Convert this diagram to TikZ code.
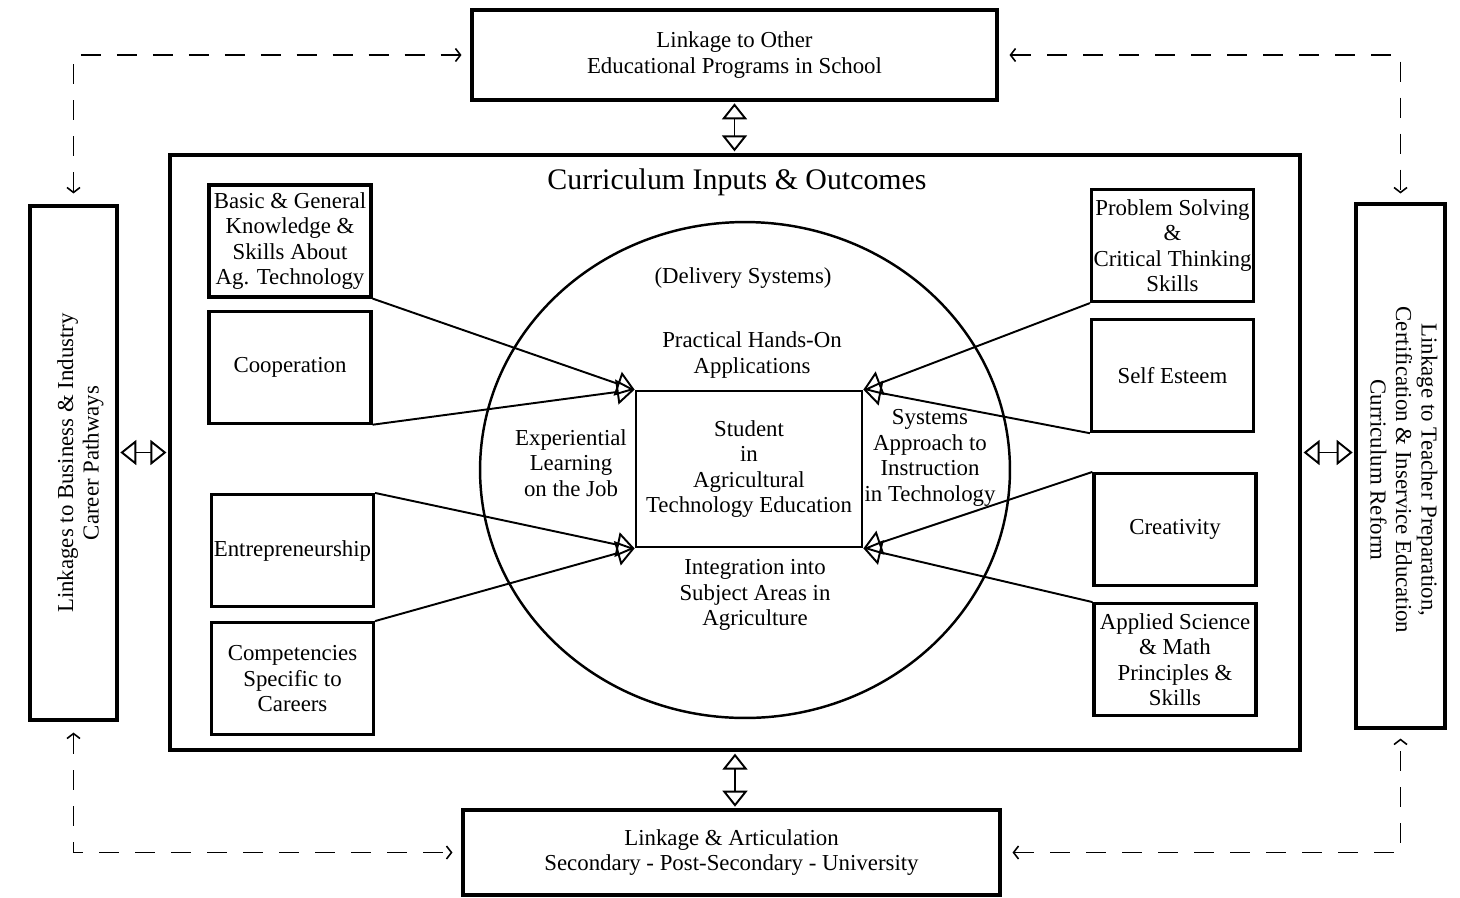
\documentclass[tikz,border=0pt]{standalone}
\usepackage{fontspec}
\setmainfont{Liberation Serif}
\usetikzlibrary{arrows.meta, positioning, shapes.geometric}

\begin{document}
\begin{tikzpicture}[x=0.02cm,y=-0.02cm,font=\fontsize{13}{14.5}\selectfont,line width=1.6pt]

	\tikzset{node box/.style={draw, line width=1.8pt, inner sep=1pt, align=center,
			minimum width=3.24cm, minimum height=2.24cm}}
	\tikzset{node link/.style={draw, line width=1.8pt, inner sep=1pt, align=center}}
	\tikzset{node txt/.style={align=center, inner sep=1pt}}
	\tikzset{in arrow/.style={draw, line width=1.1pt,
			-{Triangle[open, length=0.36cm, width=0.5cm]}}}
	\tikzset{dbl arrow/.style={line width=1.1pt,
			{Triangle[open, length=0.32cm, width=0.5cm]}-{Triangle[open, length=0.32cm, width=0.5cm]},
			shorten <=1pt, shorten >=1pt}}
	\tikzset{dash link/.style={line width=0.9pt, dash pattern=on 0.4cm off 0.32cm,
			{Straight Barb[length=0.1cm, width=0.26cm]}-{Straight Barb[length=0.1cm, width=0.26cm]},
			shorten <=0.22cm, shorten >=0.18cm}}

	\useasboundingbox (0,0) rectangle (1460,897);

	% linkages
	\node[node link, minimum width=10.5cm, minimum height=1.8cm] (T) at (734.5,55)
		{Linkage to Other\\Educational Programs in School};
	\node[node link, minimum width=10.74cm, minimum height=1.7cm] (B) at (731.5,852.5)
		{Linkage \& Articulation\\Secondary - Post-Secondary - University};
	\node[node link, minimum width=1.74cm, minimum height=10.28cm] (L) at (73.5,463) {};
	\node[node txt, rotate=90] (Ltxt) at (80.5,463)
		{Linkages to Business \& Industry\\Career Pathways};
	\node[node link, minimum width=1.78cm, minimum height=10.48cm] (R) at (1400.5,466) {};
	\node[node txt, rotate=-90] (Rtxt) at (1404,470)
		{Linkage to Teacher Preparation,\\Certification \& Inservice Education\\Curriculum Reform};

	% curriculum frame
	\node[draw, line width=2.2pt, minimum width=22.6cm, minimum height=11.9cm] (M) at (735,452.5) {};
	\node[font=\fontsize{17}{20}\selectfont] (title) at (737,182) {Curriculum Inputs \& Outcomes};

	\node[ellipse, draw, line width=1.4pt, minimum width=10.6cm, minimum height=9.92cm] (E) at (745,470) {};
	\node[node link, line width=1.6pt, minimum width=4.52cm, minimum height=3.12cm] (S) at (749,469)
		{Student\\in\\Agricultural\\Technology Education};

	% delivery systems
	\node[node txt] (D0) at (743,278) {(Delivery Systems)};
	\node[node txt] (D1) at (752,355) {Practical Hands-On\\Applications};
	\node[node txt] (D2) at (571,463) {Experiential\\Learning\\on the Job};
	\node[node txt] (D3) at (930,458) {Systems\\Approach to\\Instruction\\in Technology};
	\node[node txt] (D4) at (755,595) {Integration into\\Subject Areas in\\Agriculture};

	% inputs
	\node[node box] (L1) at (290,241) {Basic \& General\\Knowledge \&\\Skills About\\Ag. Technology};
	\node[node box, below=0.22cm of L1] (L2) {Cooperation};
	\node[node box] (L3) at (292.5,550.5) {Entrepreneurship};
	\node[node box, below=0.26cm of L3] (L4) {Competencies\\Specific to\\Careers};

	\node[node box] (R1) at (1172.5,245.5) {Problem Solving\\\&\\Critical Thinking\\Skills};
	\node[node box, below=0.3cm of R1] (R2) {Self Esteem};
	\node[node box] (R3) at (1175,529.5) {Creativity};
	\node[node box, below=0.3cm of R3] (R4) {Applied Science\\\& Math\\Principles \&\\Skills};

	\path
	(L1.south east) edge[in arrow] (S.north west)
	(L2.south east) edge[in arrow] (S.north west)
	(L3.north east) edge[in arrow] (S.south west)
	(L4.north east) edge[in arrow] (S.south west)
	(R1.south west) edge[in arrow] (S.north east)
	(R2.south west) edge[in arrow] (S.north east)
	(R3.north west) edge[in arrow] (S.south east)
	(R4.north west) edge[in arrow] (S.south east);

	\draw[dbl arrow] (T.south) -- (T.south |- M.north);
	\draw[dbl arrow] (M.south) -- (M.south |- B.north);
	\draw[dbl arrow] (M.west) -- (M.west -| L.east);
	\draw[dbl arrow] (M.east) -- (M.east -| R.west);

	\draw[dash link] (L.north) |- (T.west);
	\draw[dash link] (T.east) -| (R.north);
	\draw[dash link] (L.south) |- (B.west);
	\draw[dash link] (B.east) -| (R.south);
\end{tikzpicture}
\end{document}
